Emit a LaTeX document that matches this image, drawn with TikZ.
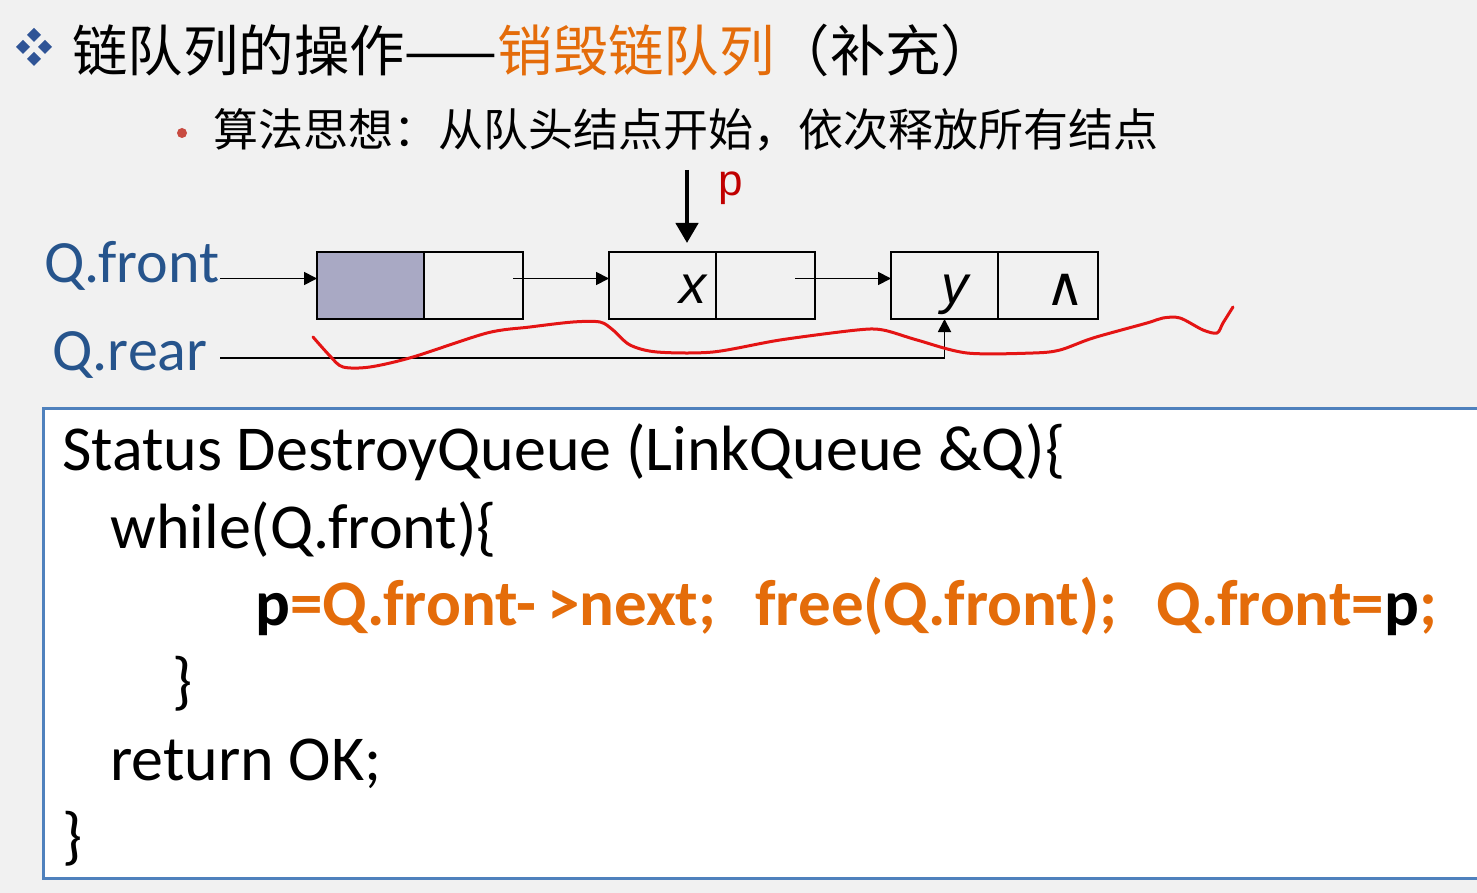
\documentclass[tikz,border=0pt]{standalone}
\usepackage{fontspec}
\setmainfont{Carlito}
\newfontfamily\cjk{Noto Sans CJK SC}
\newfontfamily\arialfont{Liberation Sans}
\newfontfamily\symfont{DejaVu Sans}
\usetikzlibrary{arrows.meta,calc,positioning}
\definecolor{slidegray}{RGB}{241,241,241}
\definecolor{titleblue}{RGB}{47,84,150}
\definecolor{labelblue}{RGB}{38,84,140}
\definecolor{codeorange}{RGB}{228,108,10}
\definecolor{boxblue}{RGB}{79,129,189}
\definecolor{headfill}{RGB}{169,169,196}
\definecolor{penred}{RGB}{228,20,20}
\definecolor{dotred}{RGB}{200,75,65}
\definecolor{pred}{RGB}{192,0,0}
\tikzset{
  cell/.style={draw=black, line width=1pt, minimum height=33.5pt, inner sep=0pt, outer sep=0pt},
  data-cell/.style={cell, minimum width=53.5pt},
  next-cell/.style={cell, minimum width=49.5pt},
  link/.style={-{Triangle[length=6.5pt,width=6.5pt]}, line width=0.9pt},
  ptr-label/.style={text=labelblue, inner sep=0pt, font=\fontsize{30}{30}\selectfont},
  cell-text/.style={anchor=base, inner sep=0pt, font=\arialfont\itshape\fontsize{27}{27}\selectfont},
  cn-text/.style={anchor=base west, inner sep=0pt},
  code-line/.style={anchor=base west, inner sep=0pt, font=\fontsize{32}{32}\selectfont}
}
\newcommand{\hl}[1]{\textcolor{codeorange}{#1}}

\begin{document}
\begin{tikzpicture}[x=0.5pt, y=-0.5pt]
  \useasboundingbox (0,0) rectangle (1477,893);
  \fill[slidegray] (0,0) rectangle (1477,893);
  % Title with diamond bullet
  \foreach \dx/\dy in {0/-12, -11/0, 11/0, 0/12}
    \fill[titleblue] (34+\dx,47+\dy) +(-7,0) -- +(0,-7) -- +(7,0) -- +(0,7) -- cycle;
  \node[cn-text, font=\cjk\fontsize{27.7}{27.7}\selectfont] (title) at (72,72)
    {链队列的操作——\textcolor{codeorange}{销毁链队列}（补充）};
  % Sub point
  \fill[dotred] (182,133) circle (5);
  \node[cn-text, font=\cjk\fontsize{22.5}{22.5}\selectfont] (idea) at (213,147)
    {算法思想：从队头结点开始，依次释放所有结点};
  % Queue nodes
  \node[data-cell, fill=headfill, anchor=north west] (n1d) at (317,252) {};
  \node[next-cell, right=0pt of n1d] (n1p) {};
  \node[data-cell, anchor=north west] (n2d) at (609,252) {};
  \node[next-cell, right=0pt of n2d] (n2p) {};
  \node[data-cell, anchor=north west] (n3d) at (891,252) {};
  \node[next-cell, minimum width=50pt, right=0pt of n3d] (n3p) {};
  \node[cell-text] (xval) at (693,303) {x};
  \node[cell-text] (yval) at (955,303) {y};
  \node[inner sep=0pt, font=\symfont\fontsize{27}{27}\selectfont] (nil) at (1065,290) {∧};
  % Front and rear pointers
  \node[ptr-label, anchor=base east] (qf) at (220,283) {Q.front};
  \node[ptr-label, anchor=base west] (qr) at (52,370) {Q.rear};
  \coordinate (rear-start) at (220,358);
  \draw[link] ($(n1d.west)+(-97,-7)$) -- ($(n1d.west)+(0,-7)$);
  \draw[link] ($(n1p.east)+(-10,-7)$) -- ($(n2d.west)+(0,-7)$);
  \draw[link] ($(n2p.east)+(-20,-7)$) -- ($(n3d.west)+(0,-7)$);
  \draw[link] (rear-start) -| (n3d.south);
  % p pointer
  \coordinate (p-top) at (687,170);
  \coordinate (p-tip) at (687,243);
  \draw[-{Triangle[length=10pt,width=11pt]}, line width=2.2pt] (p-top) -- (p-tip);
  \node[anchor=base west, inner sep=0pt, text=pred, font=\arialfont\fontsize{22}{22}\selectfont] (plabel) at (718,196) {p};
  % Hand-drawn underline
  \draw[penred, line width=1.5pt, line cap=round, line join=round] plot[smooth, tension=0.5] coordinates {
    (313,337) (330,356) (343,367) (370,367) (413,357) (487,333) (530,327)
    (573,322) (600,322) (613,330) (630,345) (657,352) (713,352) (780,340)
    (857,330) (883,330) (917,340) (967,353) (1033,353) (1060,350) (1093,338)
    (1147,323) (1163,318) (1180,318) (1203,330) (1217,333) (1223,323) (1233,307)};
  % Code box
  \draw[boxblue, fill=white, line width=1.5pt] (43,408) rectangle (1490,878);
  \node[code-line] (c1) at (62,470) {Status DestroyQueue (LinkQueue \&Q)\{};
  \node[code-line] (c2) at (110,548) {while(Q.front)\{};
  \node[code-line, font=\bfseries\fontsize{32.5}{32.5}\selectfont] (c3) at (255,625)
    {p\hl{=Q.front-\,>next;\hspace{0.6em}free(Q.front);\hspace{0.6em}Q.front=}p\hl{;}};
  \node[code-line] (c4) at (172,702) {\}};
  \node[code-line] (c5) at (110,780) {return OK;};
  \node[code-line] (c6) at (62,857) {\}};
\end{tikzpicture}
\end{document}
